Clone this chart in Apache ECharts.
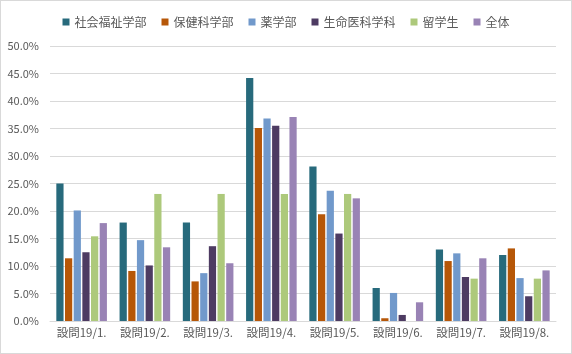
<!DOCTYPE html>
<html>
<head>
<meta charset="utf-8">
<script src="https://cdn.jsdelivr.net/npm/echarts@6/dist/echarts.min.js"></script>
<style>
  html, body { margin: 0; padding: 0; background: #fff; }
  #chart { width: 572px; height: 354px; box-sizing: border-box; border: 1px solid #d9d9d9; }
</style>
</head>
<body>
<div id="chart"></div>
<script>
  const categories = ['設問19/1.', '設問19/2.', '設問19/3.', '設問19/4.', '設問19/5.', '設問19/6.', '設問19/7.', '設問19/8.'];
  const seriesNames = ['社会福祉学部', '保健科学部', '薬学部', '生命医科学科', '留学生', '全体'];
  const shakaiFukushi = [25.0, 17.9, 17.9, 44.2, 28.1, 6.0, 13.0, 12.0];
  const hokenKagaku = [11.4, 9.1, 7.2, 35.1, 19.4, 0.5, 10.9, 13.2];
  const yakugaku = [20.1, 14.7, 8.7, 36.8, 23.7, 5.1, 12.3, 7.8];
  const seimeiIka = [12.5, 10.1, 13.6, 35.5, 15.9, 1.1, 8.0, 4.5];
  const ryugakusei = [15.4, 23.1, 23.1, 23.1, 23.1, 0.0, 7.7, 7.7];
  const zentai = [17.8, 13.4, 10.5, 37.1, 22.3, 3.4, 11.4, 9.2];
  const colors = ['#276a7c', '#b65708', '#7199cb', '#4d3b62', '#adc97b', '#9983b5'];

  const seriesData = [shakaiFukushi, hokenKagaku, yakugaku, seimeiIka, ryugakusei, zentai];
  const font = '"Noto Sans CJK JP", "Noto Sans", sans-serif';

  const chart = echarts.init(document.getElementById('chart'));
  chart.setOption({
    animation: false,
    color: colors,
    textStyle: { fontFamily: font },
    legend: {
      top: 10,
      left: 'center',
      icon: 'rect',
      itemWidth: 7,
      itemHeight: 7,
      itemGap: 15,
      textStyle: { color: '#595959', fontSize: 12, fontFamily: font },
      data: seriesNames
    },
    grid: { left: 49, right: 15, top: 45, bottom: 32, containLabel: false },
    xAxis: {
      type: 'category',
      data: categories,
      axisLine: { lineStyle: { color: '#d9d9d9' } },
      axisTick: { show: false },
      axisLabel: { color: '#595959', fontSize: 11.5, margin: 6, interval: 0, fontFamily: font }
    },
    yAxis: {
      type: 'value',
      min: 0,
      max: 50,
      interval: 5,
      axisLine: { show: false },
      axisTick: { show: false },
      splitLine: { lineStyle: { color: '#d9d9d9' } },
      axisLabel: {
        color: '#595959',
        fontSize: 11,
        margin: 11,
        fontFamily: font,
        formatter: v => v.toFixed(1) + '%'
      }
    },
    series: seriesNames.map((name, i) => ({
      name,
      type: 'bar',
      data: seriesData[i],
      barGap: '20%',
      barCategoryGap: '20%'
    }))
  });
</script>
</body>
</html>
